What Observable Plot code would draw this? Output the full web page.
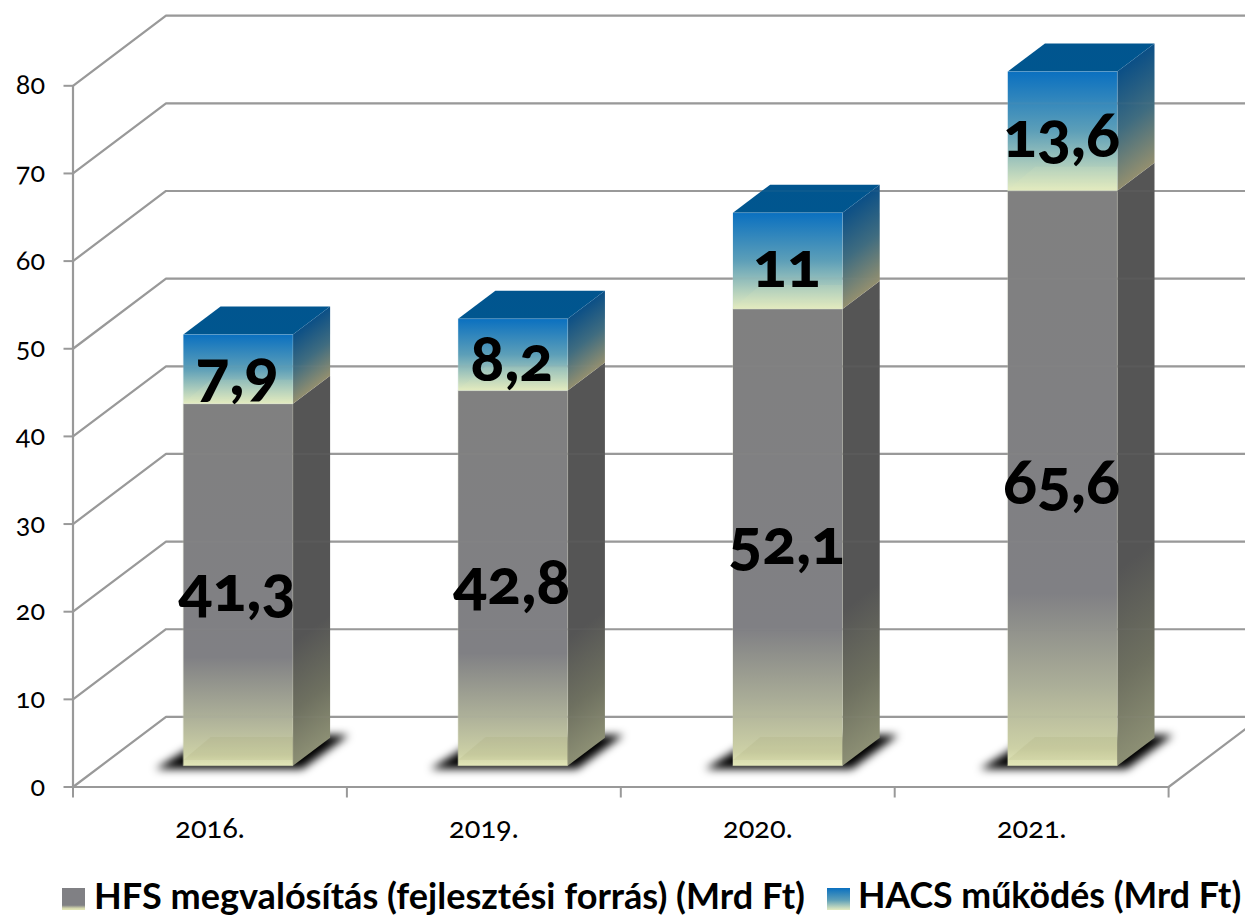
<!DOCTYPE html>
<html lang="hu">
<head>
<meta charset="utf-8">
<script src="https://cdn.jsdelivr.net/npm/d3@7"></script>
<script src="https://cdn.jsdelivr.net/npm/@observablehq/plot@0.6"></script>
<style>
html,body{margin:0;padding:0;background:#fff;overflow:hidden;width:1245px;height:915px}
svg text{font-variant-numeric:oldstyle-nums;font-feature-settings:"onum" 1}
#legend{position:relative;height:55px;font-family:Lato,"Open Sans",sans-serif;font-weight:700;color:#000;white-space:nowrap}
#legend i{position:absolute;top:28px;width:23px;height:22px}
#legend span{position:absolute;top:17px;line-height:36px}
</style>
</head>
<body>
<div id="chart"></div>
<div id="legend">
  <i style="left:62px;background:linear-gradient(#808084 0 78%,#d3d6ad 92%,#e4e8b8)"></i><span style="left:94px;font-size:36.1px">HFS megvalósítás (fejlesztési forrás) (Mrd Ft)</span>
  <i style="left:827px;background:linear-gradient(#0a70c0,#5d9fb8 55%,#e4ebc0)"></i><span style="left:858px;font-size:35.7px">HACS működés (Mrd Ft)</span>
</div>
<script>
const years = ["2016.", "2019.", "2020.", "2021."];
const hfsValues = [41.3, 42.8, 52.1, 65.6];
const hacsValues = [7.9, 8.2, 11, 13.6];
const hfsLabels = ["41,3", "42,8", "52,1", "65,6"];
const hacsLabels = ["7,9", "8,2", "11", "13,6"];
const valueTicks = [0, 10, 20, 30, 40, 50, 60, 70, 80];

const pxPerCat = 273.9, pxPerVal = 8.765;
const depthCat = 93 / pxPerCat, depthVal = 8;
const barStep = 1.0033, barGap = 0.3, barWidth = 0.4, barDepth0 = 0.303, barDepth1 = 0.703;
const project = (c, v, d) => ({x: c + d * depthCat, y: v + d * depthVal});
const poly = (pts, fill, extra = {}) => Plot.line(pts.map(p => project(...p)), {x: "x", y: "y", fill, stroke: "none", curve: "linear-closed", ...extra});

const gridStroke = "#999999";
const gridMarks = (opts) => [
  ...valueTicks.map(v => Plot.line([[0, v, 0], [0, v, 1], [years.length, v, 1]].map(p => project(...p)), {x: "x", y: "y", stroke: gridStroke, strokeWidth: 2.2, ...opts}))
];

const barMarks = [];
years.forEach((_, i) => {
  const c = i * barStep;
  const a = c + barGap, b = a + barWidth, d0 = barDepth0, d1 = barDepth1;
  const h = hfsValues[i], t = h + hacsValues[i];
  const dIn = d1 - 0.07, back = (dIn - d0) * depthCat;
  // floor shadow
  barMarks.push(poly([[c + 0.215, 0, 0.255], [c + 0.75, 0, 0.255], [c + 0.755, 0, 0.74], [c + 0.25, 0, 0.74]], "#000", {imageFilter: "blur(4.5px)"}));
  // side faces
  barMarks.push(poly([[b, 0, d0], [b, 0, d1], [b, h, d1], [b, h, d0]], `url(#sideHfs${i})`));
  barMarks.push(poly([[b, h, d0], [b, h, d1], [b, t, d1], [b, t, d0]], `url(#sideHacs${i})`));
  // top
  barMarks.push(poly([[a, t, d0], [b, t, d0], [b, t, d1], [a, t, d1]], "url(#topHacs)"));
  // front faces
  barMarks.push(poly([[a, 0, d0], [b, 0, d0], [b, h, d0], [a, h, d0]], "url(#frontHfs)", {stroke: "#d8dabb", strokeOpacity: 0.25, strokeWidth: 1}));
  barMarks.push(poly([[a, h, d0], [b, h, d0], [b, t, d0], [a, t, d0]], "url(#frontHacs)", {stroke: "#c8dce0", strokeOpacity: 0.2, strokeWidth: 1}));
  // inner floor faces seen through the front
  barMarks.push(poly([[a, 0.65, d0], [b, 0.65, d0], [b - back, 0.65, dIn], [a + 0.1 - back, 0.65, dIn]], "#8a8e50", {fillOpacity: 0.1}));
  barMarks.push(poly([[a, h + 0.1, d0], [b, h + 0.1, d0], [b - back, h + 0.1, dIn], [a + 0.1 - back, h + 0.1, dIn]], "#e8ecc0", {fillOpacity: 0.12}));
});

const labelData = years.flatMap((_, i) => {
  const cx = i * barStep + barGap + barWidth / 2 - 0.004;
  const h = hfsValues[i], g = hacsValues[i];
  return [
    {...project(cx, h / 2, barDepth0), text: hfsLabels[i]},
    {...project(cx, h + g / 2, barDepth0), text: hacsLabels[i]}
  ];
});

const plot = Plot.plot({
  width: 1245,
  height: 860,
  marginLeft: 72.5,
  marginRight: 0,
  marginTop: 0,
  marginBottom: 73.5,
  style: {background: "#fff", fontFamily: "Lato, 'Open Sans', sans-serif"},
  x: {domain: [0, (1245 - 72.5) / pxPerCat]},
  y: {domain: [0, 786.5 / pxPerVal]},
  marks: [
    ...gridMarks({}),
    Plot.line([[0, 0, 0], [0, 80, 0]].map(p => project(...p)), {x: "x", y: "y", stroke: gridStroke, strokeWidth: 2.2}),
    Plot.line([[0, 0, 0], [4, 0, 0], [4, 0, 1]].map(p => project(...p)), {x: "x", y: "y", stroke: gridStroke, strokeWidth: 2.2}),
    Plot.axisY({ticks: valueTicks, tickSize: 9, tickPadding: 19, stroke: gridStroke, strokeWidth: 2, fill: "#000", fontSize: 27, label: null}),
    Plot.axisX({ticks: [0, 1, 2, 3, 4], tickSize: 11, tickFormat: () => "", stroke: gridStroke, strokeWidth: 2, label: null}),
    Plot.axisX({ticks: [0.5, 1.5, 2.5, 3.5], tickSize: 0, tickPadding: 30, tickFormat: d => years[Math.floor(d)], fill: "#000", fontSize: 29, label: null}),
    ...barMarks,
    ...gridMarks({strokeOpacity: 0.07}),
    Plot.text(labelData, {x: "x", y: "y", text: "text", fontSize: 63, fontWeight: 900, fill: "#000", dy: 6})
  ]
});

// gradients
const NS = "http://www.w3.org/2000/svg";
const defs = document.createElementNS(NS, "defs");
const grad = (id, stops, attrs) => {
  const g = document.createElementNS(NS, "linearGradient");
  g.setAttribute("id", id);
  Object.entries(attrs).forEach(([k, v]) => g.setAttribute(k, v));
  stops.forEach(([o, c]) => {
    const s = document.createElementNS(NS, "stop");
    s.setAttribute("offset", o);
    s.setAttribute("stop-color", c);
    g.appendChild(s);
  });
  defs.appendChild(g);
};
const vert = {x1: 0, y1: 0, x2: 0, y2: 1};
grad("frontHfs", [[0, "#808080"], [0.7, "#808084"], [0.86, "#abae98"], [0.97, "#cdd1a6"], [1, "#e3e7b8"]], vert);
grad("frontHacs", [[0, "#0a70c0"], [0.5, "#5d9fb8"], [0.85, "#bcd5bd"], [1, "#e4ebc0"]], vert);
grad("topHacs", [[0, "#01558f"], [1, "#00568f"]], vert);
const X = plot.scale("x"), Y = plot.scale("y");
const skewStops = {
  hfs: [[0, "#555555"], [0.66, "#555555"], [0.85, "#6e7060"], [1, "#8c8f74"]],
  hacs: [[0, "#0b4f86"], [0.5, "#3f6c80"], [1, "#938f6f"]]
};
const dvec = project(0, 0, barDepth1 - barDepth0);
const ex = dvec.x * pxPerCat, ey = -dvec.y * pxPerVal;
const el = Math.hypot(ex, ey), nx = -ey / el, ny = ex / el;
years.forEach((_, i) => {
  const b = i * barStep + barGap + barWidth, h = hfsValues[i], t = h + hacsValues[i];
  const mk = (id, vTop, vBot, stops) => {
    const pt = project(b, vTop, barDepth0), pb = project(b, vBot, barDepth0);
    const px = X.apply(pt.x), py = Y.apply(pt.y), qy = Y.apply(pb.y);
    const len = (qy - py) * ny;
    grad(id, stops, {gradientUnits: "userSpaceOnUse", x1: px, y1: py, x2: px + nx * len, y2: py + ny * len});
  };
  mk(`sideHfs${i}`, h, 0, skewStops.hfs);
  mk(`sideHacs${i}`, t, h, skewStops.hacs);
});
plot.insertBefore(defs, plot.firstChild);
document.getElementById("chart").appendChild(plot);
</script>
</body>
</html>
